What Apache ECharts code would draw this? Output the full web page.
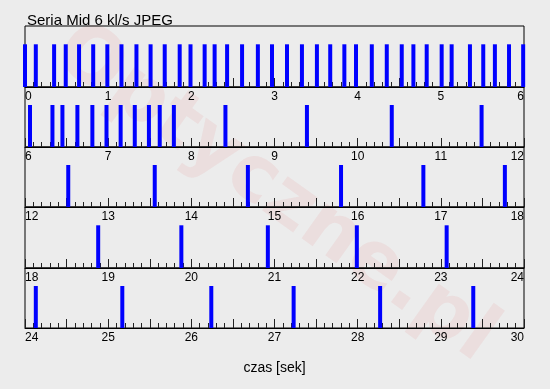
<!DOCTYPE html>
<html>
<head>
<meta charset="utf-8">
<script src="https://cdn.jsdelivr.net/npm/echarts@6/dist/echarts.min.js"></script>
<style>
html,body{margin:0;padding:0;background:#ececec;}
#c{width:550px;height:389px;}
</style>
</head>
<body>
<div id="c"></div>
<script>
// Row ranges (seconds)
const rowStarts = [0, 6, 12, 18, 24];
const rowSpan = 6;
// Frame capture times (seconds)
const frameTimes = [
  0.00, 0.13, 0.35, 0.49, 0.65, 0.82, 0.99, 1.16, 1.34, 1.51, 1.68, 1.86, 1.99,
  2.16, 2.28, 2.43, 2.61, 2.80, 2.97, 3.15, 3.33, 3.51, 3.67, 3.84, 3.98, 4.17,
  4.35, 4.53, 4.67, 4.83, 5.01, 5.13, 5.35, 5.51, 5.65, 5.82, 5.99,
  6.06, 6.33, 6.45, 6.63, 6.81, 6.98, 7.15, 7.32, 7.49, 7.62, 7.79, 8.41, 9.39,
  10.41, 11.49,
  12.52, 13.56, 14.68, 15.80, 16.79, 17.77,
  18.88, 19.88, 20.92, 21.99, 23.07,
  24.13, 25.17, 26.24, 27.23, 28.27, 29.39
];
const markerHeight = 0.7;
const titleText = 'Seria Mid 6 kl/s JPEG';
const axisTitle = 'czas [sek]';

const chart = echarts.init(document.getElementById('c'));
const tops = [26, 87, 147, 207, 268];
const heights = [61, 60, 60, 61, 60];

const grids = [], xAxes = [], yAxes = [], series = [];
rowStarts.forEach((s, i) => {
  const e = s + rowSpan;
  grids.push({
    left: 25, width: 499, top: tops[i], height: heights[i],
    show: true, borderColor: '#000', borderWidth: 1, backgroundColor: 'transparent'
  });
  xAxes.push({
    type: 'value', gridIndex: i, min: s, max: e, interval: 0.5,
    axisLine: { show: true, lineStyle: { color: '#000', width: 1 } },
    axisTick: { show: true, inside: true, length: 9, lineStyle: { color: '#222' } },
    minorTick: { show: true, splitNumber: 5, length: 5, lineStyle: { color: '#222' } },
    splitLine: { show: false },
    axisLabel: {
      color: '#000', fontSize: 12, fontFamily: 'Liberation Sans, Arial, sans-serif',
      margin: 4,
      alignMinLabel: 'left', alignMaxLabel: 'right',
      formatter: v => (Math.abs(v - Math.round(v)) < 1e-9 ? String(Math.round(v)) : '')
    },
    name: i === rowStarts.length - 1 ? axisTitle : '',
    nameLocation: 'middle', nameGap: 33,
    nameTextStyle: { color: '#000', fontSize: 14, fontFamily: 'Liberation Sans, Arial, sans-serif' }
  });
  yAxes.push({ type: 'value', gridIndex: i, min: 0, max: 1, show: false });
  series.push({
    type: 'bar', xAxisIndex: i, yAxisIndex: i, barWidth: 4, clip: false,
    itemStyle: { color: '#0000ff' },
    data: frameTimes.filter(t => t >= s && t < e).map(t => [t, markerHeight]),
    silent: true, animation: false
  });
});

chart.setOption({
  backgroundColor: '#ececec',
  animation: false,
  title: {
    text: titleText, left: 22, top: 8,
    textStyle: { color: '#000', fontSize: 15, fontWeight: 'normal', fontFamily: 'Liberation Sans, Arial, sans-serif' }
  },
  graphic: [{
    type: 'text', left: 'center', top: 'middle', z: -10, silent: true,
    x: 285, y: 175, rotation: -0.62, originX: 0, originY: 0,
    style: {
      text: 'Optyczne.pl', fontSize: 78, fontWeight: 'bold',
      fontFamily: 'DejaVu Sans, sans-serif',
      fill: 'rgba(230,40,40,0.07)', align: 'center', verticalAlign: 'middle'
    }
  }],
  grid: grids, xAxis: xAxes, yAxis: yAxes, series: series
});
</script>
</body>
</html>
